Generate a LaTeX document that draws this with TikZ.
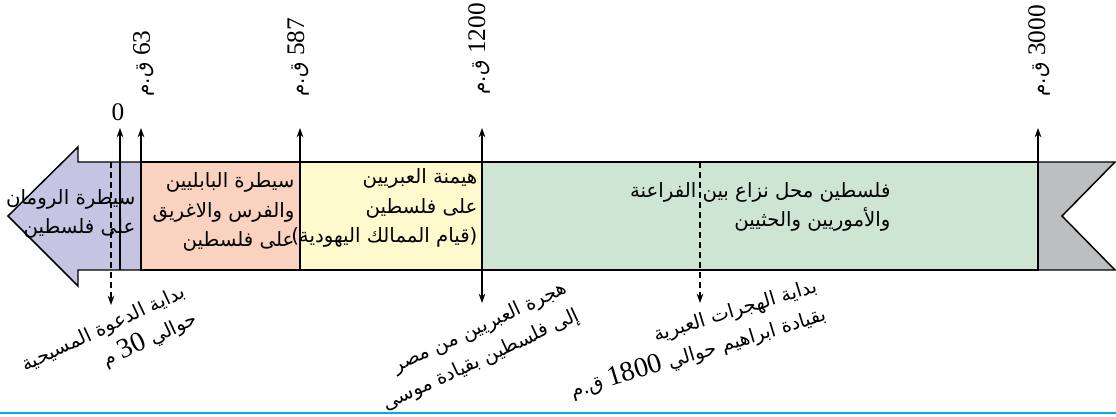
\documentclass[tikz,border=0pt]{standalone}
\usepackage{fontspec}
\setmainfont{Liberation Serif}
\newfontfamily\arabicfont[Script=Arabic]{DejaVu Sans}
\TeXXeTstate=1
\usetikzlibrary{
	arrows.meta,
	positioning,
	}
\definecolor{romecol}{RGB}{197,196,226}
\definecolor{babylcol}{RGB}{250,210,192}
\definecolor{hebrewcol}{RGB}{255,250,206}
\definecolor{pharaohcol}{RGB}{206,229,211}
\definecolor{tailcol}{RGB}{188,190,192}
\definecolor{rulecol}{RGB}{0,174,239}
\newcommand{\num}[2][19]{\beginL{\rmfamily\fontsize{#1}{#1}\selectfont #2}\endL{}}

\begin{document}
\begin{tikzpicture}[x=0.75pt, y=-0.75pt, line width=0.9pt,
	era/.style={draw=black, line width=1.1pt},
	eratext/.style={align=right, inner sep=0pt, font=\arabicfont\fontsize{14.8}{22}\selectfont},
	datelabel/.style={rotate=90, anchor=west, inner sep=0pt, font=\arabicfont\fontsize{15}{15}\selectfont},
	eventlabel/.style={align=right, inner sep=0pt, font=\arabicfont\fontsize{14.6}{22.5}\selectfont},
	tick/.style={-{Stealth[length=7pt, width=5pt]}},
	]
			\useasboundingbox (0,0) rectangle (1116,417);

			\filldraw[era, fill=romecol] (8,216) -- (78,147) -- (78,162) -- (141,162) -- (141,270) -- (78,270) -- (78,286) -- cycle;
			\filldraw[era, fill=babylcol] (141,162) rectangle (300,270);
			\filldraw[era, fill=hebrewcol] (300,162) rectangle (482,270);
			\filldraw[era, fill=pharaohcol] (482,162) rectangle (1038,270);
			\filldraw[era, fill=tailcol] (1038,162) -- (1115,162) -- (1062,216) -- (1115,270) -- (1038,270) -- cycle;

			\node[eratext, anchor=east] (rome) at (136,214) {\beginR سيطرة الرومان\endR\\\beginR على فلسطين\endR};
			\node[eratext, anchor=east] (babyl) at (295,212) {\beginR سيطرة البابليين\endR\\\beginR والفرس والاغريق\endR\\\beginR على فلسطين\endR};
			\node[eratext, anchor=east] (hebrew) at (478,208) {\beginR هيمنة العبريين\endR\\\beginR على فلسطين\endR\\\beginR (قيام الممالك اليهودية)\endR};
			\node[eratext, anchor=east] (pharaoh) at (891,207) {\beginR فلسطين محل نزاع بين الفراعنة\endR\\\beginR والأموريين والحثيين\endR};

			\coordinate (b0) at (120,270);
			\coordinate (t0) at (120,128);
			\coordinate (b63) at (141,270);
			\coordinate (t63) at (141,128);
			\coordinate (b587) at (300,270);
			\coordinate (t587) at (300,128);
			\coordinate (b1200) at (482,303);
			\coordinate (t1200) at (482,128);
			\coordinate (b3000) at (1038,270);
			\coordinate (t3000) at (1038,128);
			\coordinate (s30) at (111,162);
			\coordinate (e30) at (111,305);
			\coordinate (s1800) at (700,162);
			\coordinate (e1800) at (700,303);

			\node[inner sep=0pt, font=\fontsize{19}{19}\selectfont] (d0) at (118,112) {0};
			\node[datelabel] (d63) at (144,97) {\beginR\num{63} ق.م\endR};
			\node[datelabel] (d587) at (298,97) {\beginR\num{587} ق.م\endR};
			\node[datelabel] (d1200) at (479,95) {\beginR\num{1200} ق.م\endR};
			\node[datelabel] (d3000) at (1039,97) {\beginR\num{3000} ق.م\endR};

			\draw[tick] (b0) -- (t0);
			\draw[tick] (b63) -- (t63);
			\draw[tick] (b587) -- (t587);
			\draw[{Stealth[length=7pt, width=5pt]}-{Stealth[length=7pt, width=5pt]}] (b1200) -- (t1200);
			\draw[tick] (b3000) -- (t3000);
			\draw[tick, dash pattern=on 4.5pt off 3pt] (s30) -- (e30);
			\draw[tick, dash pattern=on 4.5pt off 3pt] (s1800) -- (e1800);

			\node[eventlabel, rotate=25] (christ) at (110,343) {\beginR بداية الدعوة المسيحية\endR\\\beginR حوالي \num[21]{30} م\endR};
			\node[eventlabel, rotate=25] (moses) at (475,347) {\beginR هجرة العبريين من مصر\endR\\\beginR إلى فلسطين بقيادة موسى\endR};
			\node[eventlabel, rotate=17] (abraham) at (694,340) {\beginR بداية الهجرات العبرية\endR\\\beginR بقيادة ابراهيم حوالي \num[21]{1800} ق.م\endR};

			\draw[rulecol, line width=1.6pt] (0,413) -- (1116,413);
					
		\end{tikzpicture}
\end{document}
